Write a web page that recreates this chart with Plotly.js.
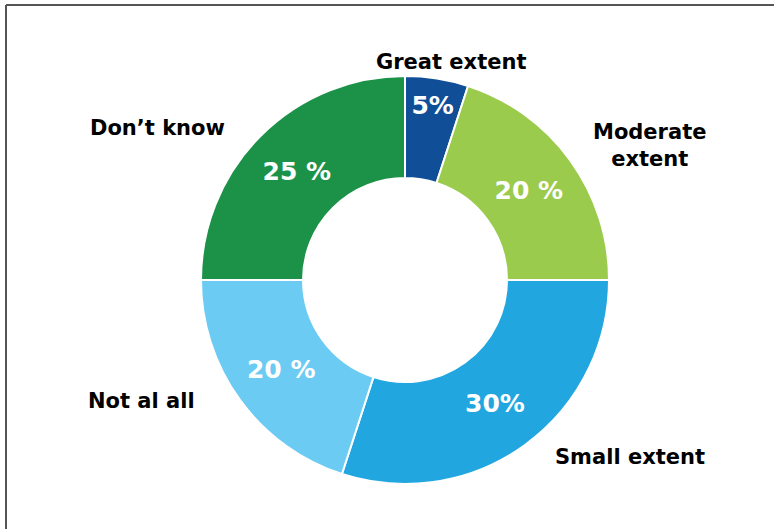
<!DOCTYPE html>
<html>
<head>
<meta charset="utf-8">
<script src="https://cdn.plot.ly/plotly-3.0.1.min.js"></script>
<style>html,body{margin:0;padding:0;background:#fff;}#chart{width:774px;height:529px;}</style>
</head>
<body>
<div id="chart"></div>
<script>
// Data
const categories = ["Great extent", "Moderate extent", "Small extent", "Not al all", "Don’t know"];
const values = [5, 20, 30, 20, 25];
const pctLabels = ["5%", "20 %", "30%", "20 %", "25 %"];
const colors = ["#114e98", "#9bcb4d", "#21a6e0", "#6bcbf3", "#1c9249"];
const outsideLabels = ["Great extent", "Moderate<br>extent", "Small extent", "Not al all", "Don’t know"];

const W = 774, H = 529;
const labelPos = [[451, 62], [649, 146], [630, 457], [141, 401], [157, 128]];
const cx = 405, cy = 280, R = 204;

const trace = {
  type: "pie",
  labels: categories,
  values: values,
  text: pctLabels,
  textinfo: "text",
  textposition: "inside",
  insidetextorientation: "horizontal",
  insidetextfont: {family: "DejaVu Sans", size: 25, color: "#ffffff", weight: "bold"},
  hole: 0.5,
  sort: false,
  direction: "clockwise",
  rotation: 0,
  marker: {colors: colors, line: {color: "#ffffff", width: 2}},
  domain: {x: [(cx - R) / W, (cx + R) / W], y: [(H - cy - R) / H, (H - cy + R) / H]},
  showlegend: false,
  hoverinfo: "none"
};

const annotations = outsideLabels.map((t, i) => ({
  text: t,
  x: labelPos[i][0] / W,
  y: 1 - labelPos[i][1] / H,
  xref: "paper", yref: "paper",
  xanchor: "center", yanchor: "middle",
  align: "center",
  showarrow: false,
  font: {family: "DejaVu Sans", size: 21, color: "#000000", weight: "bold"}
}));

const layout = {
  width: W, height: H,
  margin: {l: 0, r: 0, t: 0, b: 0},
  paper_bgcolor: "#ffffff",
  plot_bgcolor: "#ffffff",
  showlegend: false,
  annotations: annotations,
  shapes: [
    {type: "line", xref: "paper", yref: "paper", x0: 6 / W, x1: 1, y0: 1 - 5 / H, y1: 1 - 5 / H, line: {color: "#555555", width: 2}},
    {type: "line", xref: "paper", yref: "paper", x0: 6 / W, x1: 6 / W, y0: 0, y1: 1 - 5 / H, line: {color: "#555555", width: 2}}
  ]
};

Plotly.newPlot("chart", [trace], layout, {displayModeBar: false, staticPlot: true});
</script>
</body>
</html>
